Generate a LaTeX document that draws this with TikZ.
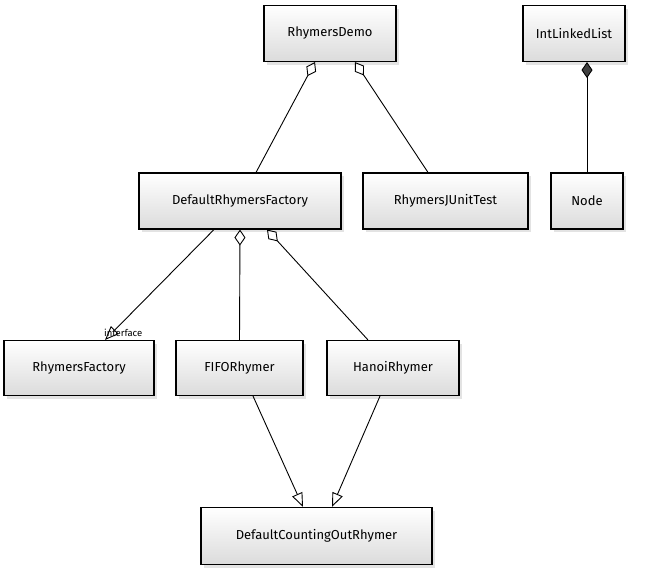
\documentclass[tikz,border=0pt]{standalone}
\usepackage{fontspec}
\setmainfont{Fira Sans}
\usetikzlibrary{arrows.meta,shadows}
\tikzset{
  classbox/.style={draw=black, line width=1.1pt, rectangle,
    top color=white, bottom color=black!14,
    drop shadow={opacity=0.22, shadow xshift=3pt, shadow yshift=-3pt},
    font=\fontsize{13}{15}\selectfont, inner sep=2pt},
  link/.style={draw=black, line width=0.9pt},
  aggr/.style={link, {Diamond[open, length=16pt, width=11pt, line width=0.9pt]}-},
  comp/.style={link, {Diamond[fill=black!75, length=16pt, width=11pt]}-},
  realize/.style={link, -{Triangle[open, length=14pt, width=11pt, line width=0.9pt]}},
  stereo/.style={font=\fontsize{9.5}{10}\selectfont, inner sep=0pt}
}
\begin{document}
\begin{tikzpicture}[x=1pt, y=-1pt]
  \useasboundingbox (0,0) rectangle (655,568);

  % classes
  \node[classbox, minimum width=132pt, minimum height=56pt] (demo) at (330,33.5) {RhymersDemo};
  \node[classbox, minimum width=102pt, minimum height=56pt] (ill) at (574,33.5) {IntLinkedList};
  \node[classbox, minimum width=202pt, minimum height=56pt] (drf) at (240,201) {DefaultRhymersFactory};
  \node[classbox, minimum width=165pt, minimum height=56pt] (junit) at (445.5,201) {RhymersJUnitTest};
  \node[classbox, minimum width=72pt, minimum height=56pt] (node) at (587,201) {Node};
  \node[classbox, minimum width=150pt, minimum height=55pt] (rf) at (79,368) {RhymersFactory};
  \node[classbox, minimum width=127pt, minimum height=55pt] (fifo) at (239.5,368) {FIFORhymer};
  \node[classbox, minimum width=132pt, minimum height=55pt] (hanoi) at (393,368) {HanoiRhymer};
  \node[classbox, minimum width=231pt, minimum height=57pt] (dcor) at (316.5,536) {DefaultCountingOutRhymer};

  % associations
  \draw[aggr] ([xshift=-15pt]demo.south) -- ([xshift=16pt]drf.north);
  \draw[aggr] ([xshift=25pt]demo.south) -- ([xshift=-17.5pt]junit.north);
  \draw[comp] ([xshift=13pt]ill.south) -- (node.north);
  \draw[aggr] (drf.south) -- (fifo.north);
  \draw[aggr] ([xshift=27pt]drf.south) -- ([xshift=-25pt]hanoi.north);

  % realization and generalization
  \draw[realize] ([xshift=-26pt]drf.south) -- ([xshift=26pt]rf.north) coordinate (rftip);
  \node[stereo, anchor=south west] (stereolbl) at ([xshift=-1pt,yshift=3pt]rftip) {interface};
  \draw[realize] ([xshift=13.5pt]fifo.south) -- ([xshift=-13.5pt]dcor.north);
  \draw[realize] ([xshift=-13pt]hanoi.south) -- ([xshift=15.5pt]dcor.north);
\end{tikzpicture}
\end{document}
